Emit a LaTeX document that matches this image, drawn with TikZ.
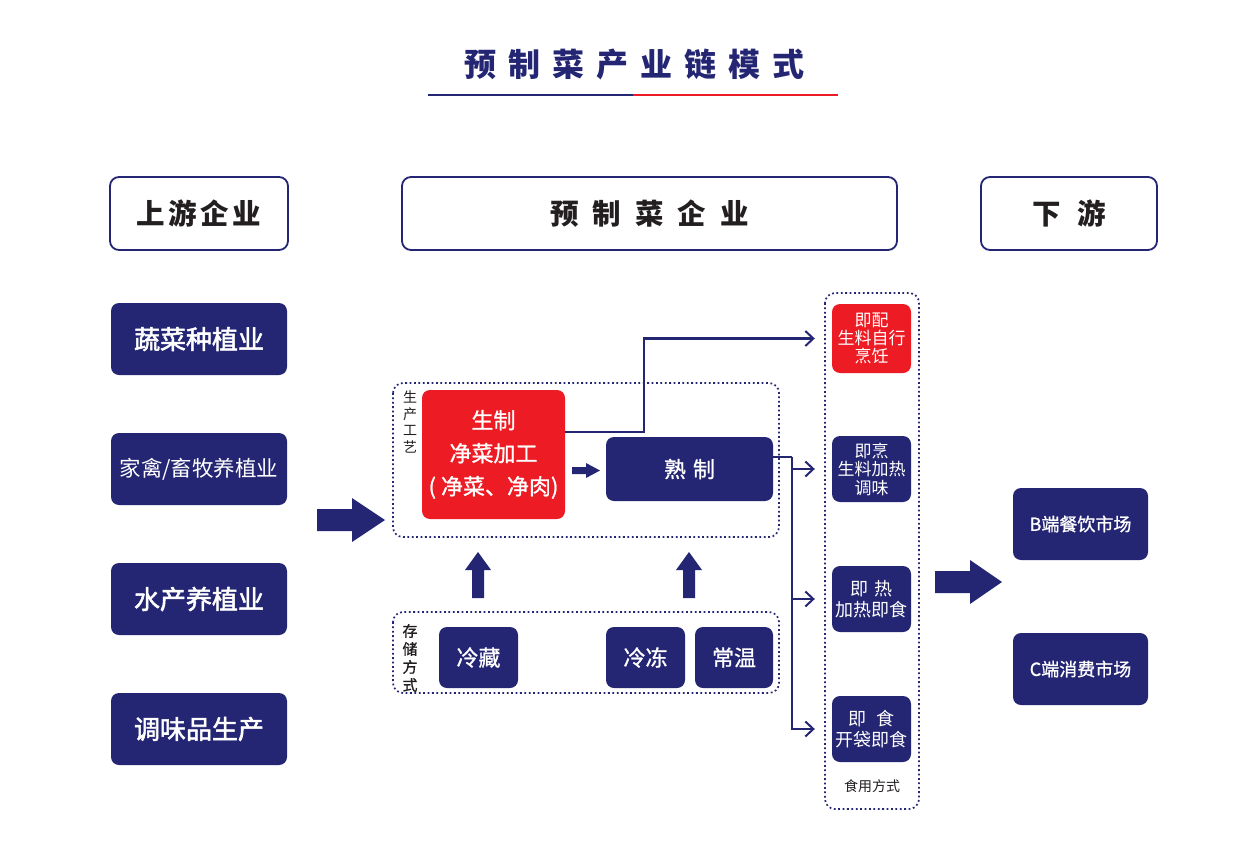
\documentclass[tikz,border=0pt]{standalone}
\usepackage{fontspec}
\setmainfont{Noto Sans CJK SC}
\newfontfamily\medfont[BoldFont={Noto Sans CJK SC},BoldFeatures={FakeBold=2}]{Noto Sans CJK SC}
\newfontfamily\semifont[BoldFont={Noto Sans CJK SC},BoldFeatures={FakeBold=1}]{Noto Sans CJK SC}
\usetikzlibrary{arrows.meta}
\definecolor{navy}{RGB}{36,38,116}
\definecolor{cred}{RGB}{237,28,36}
\definecolor{ink}{RGB}{35,31,32}
\begin{document}
\begin{tikzpicture}[x=1pt,y=-1pt,
  hdr/.style={draw=navy,line width=1.8pt,rounded corners=9pt,fill=white,text=ink,font=\fontsize{28.5}{30}\selectfont\bfseries,inner sep=0pt},
  lbox/.style={fill=navy,rounded corners=8pt,text=white,minimum width=176pt,minimum height=72pt,inner sep=0pt,font=\fontsize{26}{28}\selectfont\medfont\bfseries},
  nbox/.style={fill=navy,rounded corners=8pt,text=white,inner sep=0pt,align=center},
  rbox/.style={fill=cred,rounded corners=8pt,text=white,inner sep=0pt,align=center},
  dotbox/.style={draw=navy,line width=1.7pt,dash pattern=on 1.8pt off 2.6pt,rounded corners=10pt},
  conn/.style={draw=navy,line width=2.1pt,-{Straight Barb[length=8pt,width=15pt,line width=2pt]}},
  cline/.style={draw=navy,line width=2.1pt},
  vlab/.style={text=ink,align=center,inner sep=0pt},
]
\useasboundingbox (0,0) rectangle (1237,843);
\fill[white] (0,0) rectangle (1237,843);

% title
\node[text=navy,font=\fontsize{32}{34}\selectfont\bfseries,inner sep=0pt] (title) at (634,64)
  {预\hspace{12pt}制\hspace{12pt}菜\hspace{12pt}产\hspace{12pt}业\hspace{12pt}链\hspace{12pt}模\hspace{12pt}式};
\draw[navy,line width=1.5pt] (428,95) -- (633,95);
\draw[cred,line width=1.5pt] (633,95) -- (838,95);

% headers
\node[hdr,minimum width=178pt,minimum height=73pt] (h1) at (199,213.5) {上\hspace{3.5pt}游\hspace{3.5pt}企\hspace{3.5pt}业};
\node[hdr,minimum width=495pt,minimum height=73pt] (h2) at (649.5,213.5) {预\hspace{14pt}制\hspace{14pt}菜\hspace{14pt}企\hspace{14pt}业};
\node[hdr,minimum width=176pt,minimum height=73pt] (h3) at (1069,213.5) {下\hspace{16pt}游};

% upstream
\node[lbox] (l1) at (199,339) {蔬菜种植业};
\node[lbox,font=\fontsize{21.5}{26}\selectfont\mdseries] (l2) at (199,469) {家禽/畜牧养植业};
\node[lbox] (l3) at (199,599) {水产养植业};
\node[lbox] (l4) at (199,729) {调味品生产};

% big arrow 1
\fill[navy] (317,509) -- (352,509) -- (352,498) -- (385,520) -- (352,542) -- (352,531) -- (317,531) -- cycle;
% big arrow 2
\fill[navy] (935,571) -- (970,571) -- (970,560) -- (1002,582) -- (970,604) -- (970,593) -- (935,593) -- cycle;

% production box
\draw[dotbox] (393,383) rectangle (779,537);
\node[vlab,font=\fontsize{14}{16.5}\selectfont] (plab) at (410,422) {生\\产\\工\\艺};
\node[rbox,minimum width=143pt,minimum height=129pt,font=\fontsize{22}{33}\selectfont\semifont\bfseries] (raw) at (493.5,454.5)
  {生制\\净菜加工\\(\hspace{5pt}净菜、净肉)};
\node[nbox,minimum width=167pt,minimum height=64pt,font=\fontsize{22}{26}\selectfont\semifont\bfseries] (cook) at (689.5,469) {熟\hspace{7pt}制};
\fill[navy] (572,467) -- (586,467) -- (586,463) -- (600,470.5) -- (586,478) -- (586,474) -- (572,474) -- cycle;

% up arrows
\fill[navy] (472,598) -- (472,570) -- (465,570) -- (478,552) -- (491,570) -- (484,570) -- (484,598) -- cycle;
\fill[navy] (683,598) -- (683,570) -- (676,570) -- (689,552) -- (702,570) -- (695,570) -- (695,598) -- cycle;

% storage box
\draw[dotbox] (393,612) rectangle (779,693);
\node[vlab,font=\fontsize{15}{18}\selectfont\semifont\bfseries] (slab) at (410,658) {存\\储\\方\\式};
\node[nbox,minimum width=79pt,minimum height=61pt,font=\fontsize{22}{26}\selectfont\semifont\bfseries] (s1) at (478.5,657.5) {冷藏};
\node[nbox,minimum width=79pt,minimum height=61pt,font=\fontsize{22}{26}\selectfont\semifont\bfseries] (s2) at (645.5,657.5) {冷冻};
\node[nbox,minimum width=78pt,minimum height=61pt,font=\fontsize{22}{26}\selectfont\semifont\bfseries] (s3) at (734,657.5) {常温};

% consumption box
\draw[dotbox] (825,293) rectangle (919,809);
\node[vlab,font=\fontsize{14}{16}\selectfont] (clab) at (872,786) {食用方式};
\node[rbox,minimum width=79pt,minimum height=69pt,font=\fontsize{17}{18}\selectfont] (c1) at (871.5,338.5) {即配\\生料自行\\烹饪};
\node[nbox,minimum width=79pt,minimum height=66pt,font=\fontsize{17}{18.5}\selectfont] (c2) at (871.5,469) {即烹\\生料加热\\调味};
\node[nbox,minimum width=79pt,minimum height=66pt,font=\fontsize{18}{21}\selectfont] (c3) at (871.5,599) {即\hspace{6pt}热\\加热即食};
\node[nbox,minimum width=79pt,minimum height=66pt,font=\fontsize{18}{21}\selectfont] (c4) at (871.5,729) {即\hspace{10pt}食\\开袋即食};

% downstream
\node[nbox,minimum width=135pt,minimum height=72pt,font=\fontsize{18}{22}\selectfont\semifont\bfseries] (r1) at (1080.5,524) {B端餐饮市场};
\node[nbox,minimum width=135pt,minimum height=72pt,font=\fontsize{18}{22}\selectfont\semifont\bfseries] (r2) at (1080.5,669) {C端消费市场};

% connectors
\draw[conn] ([yshift=22.5pt]raw.east) -- ++(79,0) |- ([xshift=-17pt]c1.west);
\draw[cline] ([yshift=12pt]cook.east) -- ++(19,0) coordinate (j);
\draw[conn] (j) -- (j |- c4.west) -- ([xshift=-17pt]c4.west);
\draw[conn] (j |- c2.west) -- ([xshift=-17pt]c2.west);
\draw[conn] (j |- c3.west) -- ([xshift=-17pt]c3.west);
\end{tikzpicture}
\end{document}
